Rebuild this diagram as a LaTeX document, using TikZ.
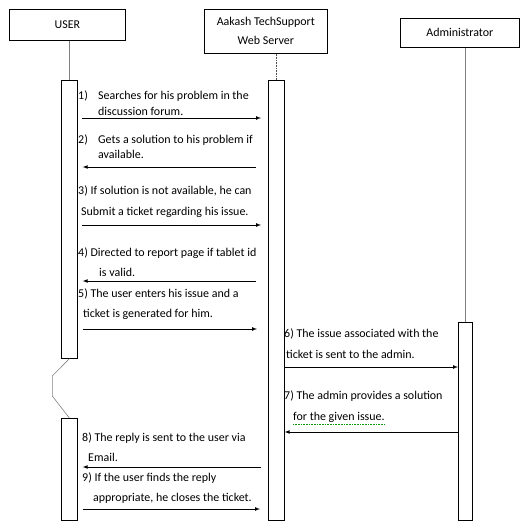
\documentclass[tikz,border=0pt]{standalone}
\usepackage{fontspec}
\setmainfont{Carlito}
\begin{document}
\begin{tikzpicture}[x=1bp, y=-1bp,
  head/.style={draw, line width=0.7bp, inner sep=0pt, anchor=north west, align=center, font=\fontsize{12}{14}\selectfont},
  bar/.style={draw, line width=0.7bp, inner sep=0pt, anchor=north west, minimum width=16bp},
  life/.style={draw=gray, line width=0.6bp},
  msg/.style={draw, -latex, line width=0.7bp},
  lbl/.style={anchor=base west, inner sep=0pt, font=\fontsize{12}{14}\selectfont}
]
\useasboundingbox (0,0) rectangle (520,521);

% heads
\node [head, minimum width=116bp, minimum height=31bp] (user) at (9,9) {USER};
\node [head, minimum width=123bp, minimum height=44bp] (server) at (204,9) {Aakash TechSupport\\[5bp]Web Server};
\node [head, minimum width=119bp, minimum height=29bp] (admin) at (400,18) {Administrator};

% activation bars
\node [bar, minimum height=278bp] (ubar) at (61,80) {};
\node [bar, minimum height=102bp] (ubar2) at (61,418) {};
\node [bar, minimum height=440bp] (sbar) at (268,80) {};
\node [bar, minimum width=14bp, minimum height=198bp] (abar) at (458,322) {};

% lifelines
\draw [life] (user.south -| ubar.north) -- (ubar.north);
\draw [life, densely dotted, draw=black!70] (server.south -| sbar.north) -- (sbar.north);
\draw [life] (admin.south -| abar.north) -- (abar.north);
\draw [life] (ubar.south) -- (52.3,376) -- (52.3,396) -- (ubar2.north);

% 1
\node [lbl] (m1a) at (78,100) {1)};
\node [lbl] (m1b) at (98,100) {Searches for his problem in the};
\node [lbl] (m1c) at (98,116) {discussion forum.};
\draw [msg, shorten <=4bp, shorten >=7bp] (ubar.east |- 0,118) -- (sbar.west |- 0,118);
% 2
\node [lbl] (m2a) at (78,144) {2)};
\node [lbl] (m2b) at (98,144) {Gets a solution to his problem if};
\node [lbl] (m2c) at (98,159) {available.};
\draw [msg, shorten <=12bp, shorten >=5bp] (sbar.west |- 0,167) -- (ubar.east |- 0,167);
% 3
\node [lbl] (m3a) at (78,195) {3) If solution is not available, he can};
\node [lbl] (m3b) at (81,215) {Submit a ticket regarding his issue.};
\draw [msg, shorten <=4bp, shorten >=7bp] (ubar.east |- 0,225) -- (sbar.west |- 0,225);
% 4
\node [lbl] (m4a) at (78,256) {4) Directed to report page if tablet id};
\node [lbl] (m4b) at (99,276) {is valid.};
\draw [msg, shorten <=12bp, shorten >=5bp] (sbar.west |- 0,281) -- (ubar.east |- 0,281);
% 5
\node [lbl] (m5a) at (78,297) {5) The user enters his issue and a};
\node [lbl] (m5b) at (83,317) {ticket is generated for him.};
\draw [msg, shorten <=5bp, shorten >=11bp] (ubar.east |- 0,329) -- (sbar.west |- 0,329);
% 6
\node [lbl] (m6a) at (284,337) {6) The issue associated with the};
\node [lbl] (m6b) at (286,358) {ticket is sent to the admin.};
\draw [msg] (sbar.east |- 0,367) -- (abar.west |- 0,367);
% 7
\node [lbl] (m7a) at (284,399) {7) The admin provides a solution};
\node [lbl] (m7b) at (293,420) {for the given issue.};
\draw [densely dotted, green!60!black, line width=0.6bp] ([yshift=-2bp]m7b.south west) -- ([yshift=-2bp]m7b.south east);
\draw [msg] (abar.west |- 0,432) -- (sbar.east |- 0,432);
% 8
\node [lbl] (m8a) at (82,441) {8) The reply is sent to the user via};
\node [lbl] (m8b) at (88,461) {Email.};
\draw [msg, shorten <=7bp, shorten >=5bp] (sbar.west |- 0,467) -- (ubar2.east |- 0,467);
% 9
\node [lbl] (m9a) at (82,481) {9) If the user finds the reply};
\node [lbl] (m9b) at (93,501) {appropriate, he closes the ticket.};
\draw [msg, shorten <=5bp, shorten >=8bp] (ubar2.east |- 0,509) -- (sbar.west |- 0,509);
\end{tikzpicture}
\end{document}
